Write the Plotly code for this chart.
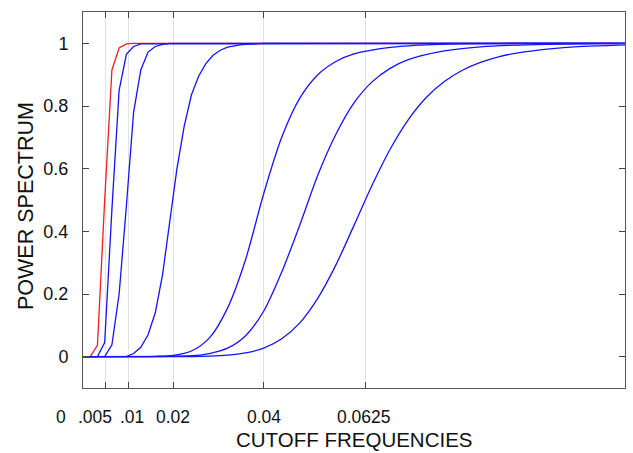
import plotly.graph_objects as go

# ---- data ----
x_red = [0, 0.0016, 0.0032, 0.0048, 0.0064, 0.008, 0.0096, 0.0112, 0.12]
y_red = [0, 0, 0.036, 0.5, 0.915, 0.985, 0.998, 1.0, 1.0]

x_b1 = [0, 0.0032, 0.0048, 0.0064, 0.008, 0.0096, 0.0112, 0.0128, 0.12]
y_b1 = [0, 0, 0.045, 0.47, 0.85, 0.965, 0.99, 0.998, 1.0]

x_b2 = [0, 0.0048, 0.0064, 0.008, 0.0096, 0.0112, 0.0128, 0.0144, 0.016, 0.0176, 0.0192, 0.12]
y_b2 = [0, 0, 0.038, 0.2, 0.48, 0.78, 0.915, 0.972, 0.99, 0.997, 1.0, 1.0]

x_b3 = [0, 0.0096, 0.0112, 0.0128, 0.0144, 0.016, 0.0176, 0.0192, 0.0208, 0.0224,
        0.024, 0.0256, 0.0272, 0.0288, 0.0304, 0.032, 0.0352, 0.04, 0.12]
y_b3 = [0, 0, 0.01, 0.03, 0.07, 0.14, 0.26, 0.43, 0.6, 0.735,
        0.835, 0.895, 0.935, 0.962, 0.978, 0.988, 0.996, 1.0, 1.0]

x_b4 = [0, 0.012, 0.016, 0.02, 0.024, 0.028, 0.032, 0.036, 0.04, 0.044,
        0.048, 0.052, 0.056, 0.06, 0.068, 0.076, 0.084, 0.1, 0.12]
y_b4 = [0, 0, 0.001, 0.004, 0.018, 0.06, 0.155, 0.31, 0.52, 0.70,
        0.825, 0.90, 0.942, 0.966, 0.987, 0.995, 0.998, 1.0, 1.0]

x_b5 = [0, 0.016, 0.02, 0.024, 0.028, 0.032, 0.036, 0.04, 0.044, 0.048,
        0.052, 0.056, 0.06, 0.064, 0.068, 0.072, 0.08, 0.088, 0.1, 0.12]
y_b5 = [0, 0, 0.001, 0.003, 0.01, 0.027, 0.067, 0.145, 0.27, 0.42,
        0.58, 0.71, 0.81, 0.877, 0.92, 0.948, 0.976, 0.989, 0.996, 0.999]

x_b6 = [0, 0.024, 0.028, 0.032, 0.036, 0.04, 0.044, 0.048, 0.052, 0.056,
        0.06, 0.064, 0.068, 0.072, 0.076, 0.08, 0.084, 0.088, 0.092, 0.096,
        0.1, 0.104, 0.108, 0.112, 0.116, 0.12]
y_b6 = [0, 0.0005, 0.0016, 0.0047, 0.012, 0.027, 0.057, 0.108, 0.187, 0.293,
        0.419, 0.547, 0.662, 0.756, 0.827, 0.878, 0.914, 0.939, 0.957, 0.969,
        0.977, 0.983, 0.988, 0.991, 0.993, 0.995]

x_tick_values = [0, 0.005, 0.01, 0.02, 0.04, 0.0625]
x_tick_labels = ["0", ".005", ".01", "0.02", "0.04", "0.0625"]
y_tick_values = [0, 0.2, 0.4, 0.6, 0.8, 1]
y_tick_labels = ["0", "0.2", "0.4", "0.6", "0.8", "1"]

x_title = "CUTOFF FREQUENCIES"
y_title = "POWER SPECTRUM"

# ---- styling ----
FONT = "Liberation Sans, Arial, Helvetica, sans-serif"
BLUE = "rgb(20,20,250)"
RED = "rgb(240,30,30)"
label_xshift = [-22, -11, 4, 0, 0, -1]
L, R, T, B = 83, 8, 12, 65
W, H = 633, 453
PW, PH = W - L - R, H - T - B

fig = go.Figure()
fig.add_trace(go.Scatter(x=x_red, y=y_red, mode="lines",
                         line=dict(color=RED, width=1.3)))
for xs, ys, shape in [(x_b1, y_b1, "linear"), (x_b2, y_b2, "linear"),
                      (x_b3, y_b3, "linear"), (x_b4, y_b4, "spline"),
                      (x_b5, y_b5, "spline"), (x_b6, y_b6, "spline")]:
    fig.add_trace(go.Scatter(x=xs, y=ys, mode="lines",
                             line=dict(color=BLUE, width=1.3, shape=shape,
                                       smoothing=0.8 if shape == "spline" else None)))

grid_vals = [v for v in x_tick_values if v > 0]

fig.update_layout(
    width=W, height=H,
    margin=dict(l=L, r=R, t=T, b=B, autoexpand=False),
    paper_bgcolor="white", plot_bgcolor="white",
    showlegend=False,
    font=dict(family=FONT, size=18, color="#111"),
)
fig.update_xaxes(
    range=[0, 0.12], tickvals=grid_vals, ticktext=[""] * len(grid_vals),
    ticks="inside", ticklen=6, tickcolor="#444", tickwidth=1,
    showline=True, linecolor="#555", linewidth=1, mirror="ticks",
    showgrid=True, gridcolor="#e3e3e3", gridwidth=1, zeroline=False,
    automargin=False,
)
fig.update_yaxes(
    range=[-0.1, 1.1], tickvals=y_tick_values, ticktext=y_tick_labels,
    ticks="inside", ticklen=6, tickcolor="#444", tickwidth=1,
    showline=True, linecolor="#555", linewidth=1, mirror="ticks",
    showgrid=False, zeroline=False, ticklabelstandoff=10,
    tickfont=dict(size=18), automargin=False,
)

annotations = []
for v, lab, sh in zip(x_tick_values, x_tick_labels, label_xshift):
    annotations.append(dict(x=v, y=-(417 - (H - B)) / PH, xref="x", yref="paper", text=lab,
                            showarrow=False, xshift=sh, xanchor="center",
                            yanchor="middle", font=dict(size=17.5, family=FONT, color="#111")))
annotations.append(dict(xref="paper", yref="paper", x=(354 - L) / PW, y=-(439.5 - (H - B)) / PH,
                        text=x_title, showarrow=False, xanchor="center", yanchor="middle",
                        font=dict(size=20.5, family=FONT, color="#111")))
annotations.append(dict(xref="paper", yref="paper", x=-(L - 26) / PW, y=((H - B) - 206) / PH,
                        text=y_title, showarrow=False, textangle=-90,
                        xanchor="center", yanchor="middle",
                        font=dict(size=21.5, family=FONT, color="#111")))
fig.update_layout(annotations=annotations)

fig.write_html("out.html", config={"displayModeBar": False},
               post_script="document.body.style.margin='0';document.body.style.overflow='hidden';")
